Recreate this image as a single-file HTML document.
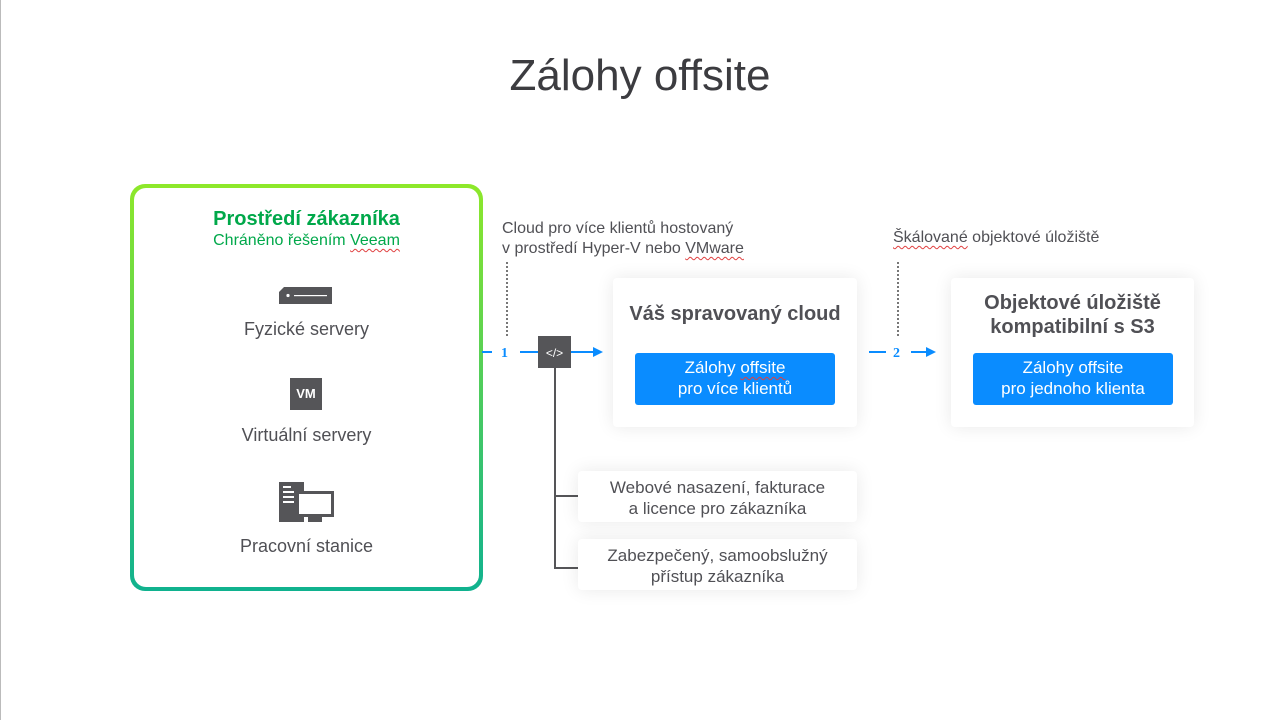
<!DOCTYPE html>
<html><head><meta charset="utf-8"><style>
body{margin:0;width:1280px;height:720px;background:#fff;position:relative;overflow:hidden;font-family:"Liberation Sans","DejaVu Sans",sans-serif;color:#505055}
.a{position:absolute}
.t{text-align:center}
.card{position:absolute;background:#fff;border-radius:4px;box-shadow:0 0 18px rgba(0,0,0,0.09)}
.btn{position:absolute;background:#0a8cff;color:#fff;border-radius:3px;text-align:center;font-size:17px;line-height:21px;padding-top:4px;box-sizing:border-box}
.sq{text-decoration:underline wavy #e04040;text-decoration-thickness:1px;text-underline-offset:3px}
</style></head><body>
<div class="a" style="left:0;top:0;width:1px;height:720px;background:#bbb"></div>
<div class="a t" style="left:0;width:1280px;top:51px;font-size:44px;color:#3c3c40">Zálohy offsite</div>

<div class="a" style="left:130px;top:184px;width:353px;height:407px;border-radius:15px;background:linear-gradient(#8ee82a,#10b28f)"></div>
<div class="a" style="left:134px;top:188px;width:345px;height:399px;border-radius:12px;background:#fff"></div>
<div class="a t" style="left:131px;width:351px;top:208px;font-size:20px;font-weight:bold;color:#00a84a">Prostředí zákazníka</div>
<div class="a t" style="left:131px;width:351px;top:232px;font-size:16px;color:#00a84a">Chráněno řešením <span class="sq">Veeam</span></div>
<svg class="a" style="left:279px;top:287px" width="54" height="17"><path d="M5 0H53V17H0V5Z" fill="#555558"/><circle cx="9" cy="8.5" r="1.6" fill="#fff"/><rect x="15" y="8" width="33" height="1.2" fill="#fff"/></svg>
<div class="a t" style="left:131px;width:351px;top:319px;font-size:18px">Fyzické servery</div>
<div class="a t" style="left:290px;top:378px;width:32px;height:32px;background:#555558;color:#fff;font-size:13px;font-weight:bold;line-height:32px">VM</div>
<div class="a t" style="left:131px;width:351px;top:425px;font-size:18px">Virtuální servery</div>
<svg class="a" style="left:279px;top:482px" width="55" height="41"><rect x="0" y="0" width="25" height="40" fill="#555558"/><rect x="4" y="4" width="8" height="2" fill="#fff"/><rect x="4" y="9" width="11" height="2" fill="#fff"/><rect x="4" y="14" width="11" height="2" fill="#fff"/><rect x="4" y="19" width="11" height="2" fill="#fff"/><rect x="17" y="9" width="38" height="26" fill="#555558"/><rect x="20" y="12" width="32" height="20" fill="#fff"/><rect x="29" y="35" width="14" height="5" fill="#555558"/></svg>
<div class="a t" style="left:131px;width:351px;top:536px;font-size:18px">Pracovní stanice</div>

<div class="a" style="left:502px;top:219px;font-size:16px;line-height:20px">Cloud pro více klientů hostovaný<br>v prostředí Hyper-V nebo <span class="sq">VMware</span></div>
<div class="a" style="left:893px;top:229px;font-size:16px"><span class="sq">Škálované</span> objektové úložiště</div>
<div class="a" style="left:506px;top:262px;height:74px;border-left:2px dotted #777"></div>
<div class="a" style="left:897px;top:262px;height:74px;border-left:2px dotted #777"></div>

<svg class="a" style="left:0;top:0" width="1280" height="720">
<g stroke="#0a8cff" stroke-width="2"><line x1="482" y1="352" x2="492" y2="352"/><line x1="520" y1="352" x2="538" y2="352"/><line x1="571" y1="352" x2="594" y2="352"/><line x1="869" y1="352" x2="886" y2="352"/><line x1="911" y1="352" x2="928" y2="352"/></g>
<g fill="#0a8cff"><path d="M593 347L603 352L593 357Z"/><path d="M926 347L936 352L926 357Z"/></g>
<g fill="#0a8cff" font-weight="bold" font-size="14" font-family="Liberation Serif,serif"><text x="501" y="357">1</text><text x="893" y="357">2</text></g>
<g stroke="#555558" stroke-width="2" fill="none"><path d="M555 368V568H578M555 496H578"/></g>
<rect x="538" y="336" width="33" height="32" fill="#555558"/>
<text x="554.5" y="357" fill="#fff" font-size="12" text-anchor="middle">&lt;/&gt;</text>
</svg>

<div class="card" style="left:613px;top:278px;width:244px;height:149px"></div>
<div class="a t" style="left:613px;width:244px;top:303px;font-size:20px;font-weight:bold">Váš spravovaný cloud</div>
<div class="btn" style="left:635px;top:353px;width:200px;height:52px">Zálohy <span class="sq">offsite</span><br>pro více klientů</div>

<div class="card" style="left:951px;top:278px;width:243px;height:149px"></div>
<div class="a t" style="left:951px;width:243px;top:291px;font-size:20px;font-weight:bold;line-height:24px">Objektové úložiště<br>kompatibilní s S3</div>
<div class="btn" style="left:973px;top:353px;width:200px;height:52px">Zálohy offsite<br>pro jednoho klienta</div>

<div class="card" style="left:578px;top:471px;width:279px;height:51px"></div>
<div class="a t" style="left:578px;width:279px;top:477px;font-size:17px;line-height:21px">Webové nasazení, fakturace<br>a licence pro zákazníka</div>
<div class="card" style="left:578px;top:539px;width:279px;height:51px"></div>
<div class="a t" style="left:578px;width:279px;top:545px;font-size:17px;line-height:21px">Zabezpečený, samoobslužný<br>přístup zákazníka</div>
</body></html>
